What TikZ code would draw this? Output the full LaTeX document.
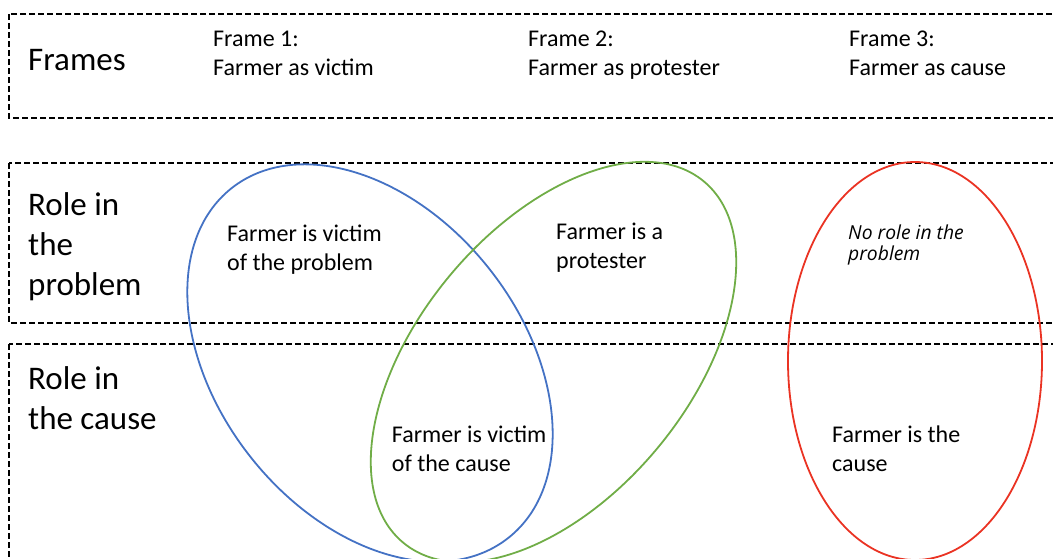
\documentclass[tikz,border=0pt]{standalone}
\usepackage{fontspec}
\setmainfont{Carlito}
\newfontfamily\notefont{Open Sans}
\definecolor{ringblue}{RGB}{68,114,196}
\definecolor{ringgreen}{RGB}{112,173,71}
\definecolor{ringred}{RGB}{234,51,35}
\begin{document}
\begin{tikzpicture}[x=1pt,y=-1pt,
  framebox/.style={draw=black, line width=1.5pt, dash pattern=on 6pt off 3pt},
  bigtext/.style={anchor=base west, inner sep=0pt, align=left, font=\fontsize{33}{40}\selectfont},
  smalltext/.style={anchor=base west, inner sep=0pt, align=left, font=\fontsize{24}{29}\selectfont},
  notetext/.style={anchor=base west, inner sep=0pt, align=left, font=\notefont\itshape\fontsize{19.3}{21.4}\selectfont},
  ring/.style={line width=1.8pt}]
\useasboundingbox (0,0) rectangle (1053,558);
\clip (0,0) rectangle (1053,558);
% dashed boxes
\draw[framebox] (9,14) rectangle (1070,118);
\draw[framebox] (9,163) rectangle (1070,323);
\draw[framebox] (9,344) rectangle (1070,590);
% ellipses
\draw[ring, ringblue, rotate around={-51.6:(370,363)}] (370,363) ellipse [x radius=223, y radius=152];
\draw[ring, ringgreen, rotate around={50.2:(553.5,362)}] (553.5,362) ellipse [x radius=235, y radius=135];
\draw[ring, ringred] (915,361) ellipse [x radius=127, y radius=199];
% labels (anchor at baseline of last line)
\node[bigtext] (frames) at (28,70.7) {Frames};
\node[smalltext] (f1) at (213,75) {Frame 1:\\Farmer as victim};
\node[smalltext] (f2) at (528,75) {Frame 2:\\Farmer as protester};
\node[smalltext] (f3) at (849,75) {Frame 3:\\Farmer as cause};
\node[bigtext] (rp) at (28,295) {Role in\\the\\problem};
\node[bigtext] (rc) at (28,429) {Role in\\the cause};
\node[smalltext] (vp) at (227,270) {Farmer is victim\\of the problem};
\node[smalltext] (pr) at (556,268.3) {Farmer is a\\protester};
\node[notetext] (nr) at (848,260.7) {No role in the\\problem};
\node[smalltext] (vc) at (391.7,471.7) {Farmer is victim\\of the cause};
\node[smalltext] (fc) at (832,471.7) {Farmer is the\\cause};
\end{tikzpicture}
\end{document}
